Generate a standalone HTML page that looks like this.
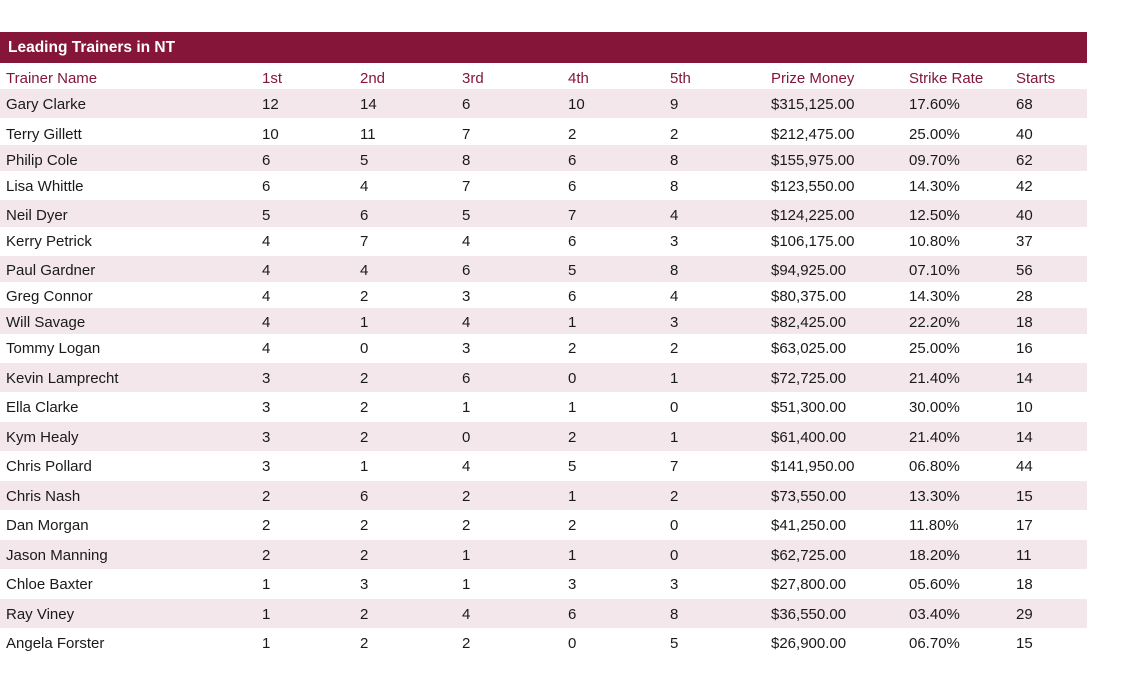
<!DOCTYPE html><html><head><style>
body{margin:0;width:1131px;height:695px;background:#fff;position:relative;font-family:"Liberation Sans",sans-serif;font-size:15px;color:#1a1a1a;overflow:hidden}
.bar{position:absolute;left:0;top:32px;width:1087px;height:31px;background:#85163a;color:#fff;font-weight:bold;line-height:31px;padding-left:8px;box-sizing:border-box;font-size:15.5px}
.band{position:absolute;left:0;width:1087px;background:#f3e7eb}
.r{position:absolute;left:0;width:1131px;height:20px;line-height:20px}
.r span{position:absolute;white-space:nowrap}
.h{color:#85163a}
</style></head><body>
<div class="bar">Leading Trainers in NT</div>
<div class="band" style="top:89px;height:29px"></div>
<div class="band" style="top:145px;height:26px"></div>
<div class="band" style="top:200px;height:27px"></div>
<div class="band" style="top:256px;height:26px"></div>
<div class="band" style="top:308px;height:26px"></div>
<div class="band" style="top:363px;height:29px"></div>
<div class="band" style="top:422px;height:29px"></div>
<div class="band" style="top:481px;height:29px"></div>
<div class="band" style="top:540px;height:29px"></div>
<div class="band" style="top:599px;height:29px"></div>
<div id="t"></div>
<script>
var X=[6,262,360,462,568,670,771,909,1016];
var rows=[[77,"Trainer Name","1st","2nd","3rd","4th","5th","Prize Money","Strike Rate","Starts"],
[103,"Gary Clarke",12,14,6,10,9,"$315,125.00","17.60%",68],
[133,"Terry Gillett",10,11,7,2,2,"$212,475.00","25.00%",40],
[159,"Philip Cole",6,5,8,6,8,"$155,975.00","09.70%",62],
[185,"Lisa Whittle",6,4,7,6,8,"$123,550.00","14.30%",42],
[214,"Neil Dyer",5,6,5,7,4,"$124,225.00","12.50%",40],
[240,"Kerry Petrick",4,7,4,6,3,"$106,175.00","10.80%",37],
[269,"Paul Gardner",4,4,6,5,8,"$94,925.00","07.10%",56],
[295,"Greg Connor",4,2,3,6,4,"$80,375.00","14.30%",28],
[321,"Will Savage",4,1,4,1,3,"$82,425.00","22.20%",18],
[347,"Tommy Logan",4,0,3,2,2,"$63,025.00","25.00%",16],
[377,"Kevin Lamprecht",3,2,6,0,1,"$72,725.00","21.40%",14],
[406,"Ella Clarke",3,2,1,1,0,"$51,300.00","30.00%",10],
[436,"Kym Healy",3,2,0,2,1,"$61,400.00","21.40%",14],
[465,"Chris Pollard",3,1,4,5,7,"$141,950.00","06.80%",44],
[495,"Chris Nash",2,6,2,1,2,"$73,550.00","13.30%",15],
[524,"Dan Morgan",2,2,2,2,0,"$41,250.00","11.80%",17],
[554,"Jason Manning",2,2,1,1,0,"$62,725.00","18.20%",11],
[583,"Chloe Baxter",1,3,1,3,3,"$27,800.00","05.60%",18],
[613,"Ray Viney",1,2,4,6,8,"$36,550.00","03.40%",29],
[642,"Angela Forster",1,2,2,0,5,"$26,900.00","06.70%",15]];
var h="";rows.forEach(function(r,i){h+='<div class="r'+(i?'':' h')+'" style="top:'+(r[0]-8)+'px">';for(var j=1;j<r.length;j++)h+='<span style="left:'+X[j-1]+'px">'+r[j]+'</span>';h+='</div>';});
document.getElementById("t").innerHTML=h;
</script>
</body></html>
